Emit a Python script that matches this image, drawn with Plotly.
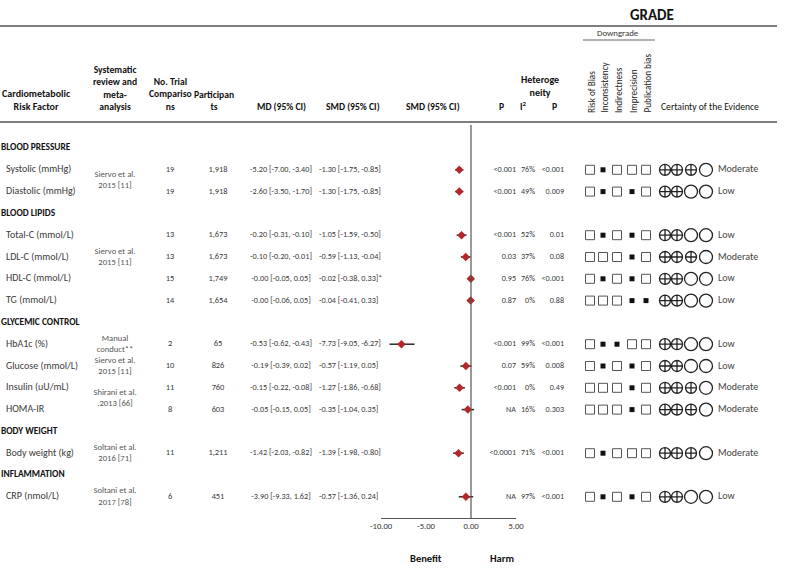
import plotly.graph_objects as go

# ------------------------- table content ---------------------------------------#
groups = ["BLOOD PRESSURE", "BLOOD LIPIDS", "GLYCEMIC CONTROL", "BODY WEIGHT", "INFLAMMATION"]
group_sizes = [2, 4, 4, 1, 1]

factors = [
    "Systolic (mmHg)", "Diastolic (mmHg)",
    "Total-C (mmol/L)", "LDL-C (mmol/L)", "HDL-C (mmol/L)", "TG (mmol/L)",
    "HbA1c (%)", "Glucose (mmol/L)", "Insulin (uU/mL)", "HOMA-IR",
    "Body weight (kg)",
    "CRP (nmol/L)",
]

# review label and the factor rows it is centred against
reviews = [
    "Siervo et al.<br>2015 [11]", "Siervo et al.<br>2015 [11]", "Manual<br>conduct**",
    "Siervo et al.<br>2015 [11]", "Shirani et al.<br>.2013 [66]",
    "Soltani et al.<br>2016 [71]", "Soltani et al.<br>2017 [78]",
]
review_rows = [(0, 1), (3, 3), (6, 6), (7, 7), (8, 9), (10, 10), (11, 11)]

trials = [19, 19, 13, 13, 15, 14, 2, 10, 11, 8, 11, 6]
participants = ["1,918", "1,918", "1,673", "1,673", "1,749", "1,654", "65", "826", "760", "603", "1,211", "451"]

md = [-5.20, -2.60, -0.20, -0.10, -0.00, -0.00, -0.53, -0.19, -0.15, -0.05, -1.42, -3.90]
md_lo = [-7.00, -3.50, -0.31, -0.20, -0.05, -0.06, -0.62, -0.39, -0.22, -0.15, -2.03, -9.33]
md_hi = [-3.40, -1.70, -0.10, -0.01, 0.05, 0.05, -0.43, 0.02, -0.08, 0.05, -0.82, 1.62]

smd = [-1.30, -1.30, -1.05, -0.59, -0.02, -0.04, -7.73, -0.57, -1.27, -0.35, -1.39, -0.57]
smd_lo = [-1.75, -1.75, -1.59, -1.13, -0.38, -0.41, -9.05, -1.19, -1.86, -1.04, -1.98, -1.36]
smd_hi = [-0.85, -0.85, -0.50, -0.04, 0.33, 0.33, -6.27, 0.05, -0.68, 0.35, -0.80, 0.24]
smd_note = ["", "", "", "", "*", "", "", "", "", "", "", ""]

p_effect = ["<0.001", "<0.001", "<0.001", "0.03", "0.95", "0.87", "<0.001", "0.07", "<0.001", "NA", "<0.0001", "NA"]
i2 = ["76%", "49%", "52%", "37%", "76%", "0%", "99%", "59%", "0%", "16%", "71%", "97%"]
p_het = ["<0.001", "0.009", "0.01", "0.08", "<0.001", "0.88", "<0.001", "0.008", "0.49", "0.303", "<0.001", "<0.001"]

downgrade_labels = ["Risk of Bias", "Inconsistency", "Indirectness", "Imprecision", "Publication bias"]
# 1 = downgraded for that domain
downgrade = [
    [0, 1, 0, 0, 0],
    [0, 1, 0, 1, 0],
    [0, 1, 0, 1, 0],
    [0, 0, 0, 1, 0],
    [0, 1, 0, 1, 0],
    [0, 0, 0, 1, 1],
    [0, 1, 1, 0, 0],
    [0, 1, 0, 1, 0],
    [0, 0, 0, 1, 0],
    [0, 0, 0, 1, 0],
    [0, 1, 0, 0, 0],
    [0, 1, 0, 1, 0],
]
certainty = ["Moderate", "Low", "Low", "Moderate", "Low", "Low", "Low", "Low", "Moderate", "Moderate", "Moderate", "Low"]
certainty_level = {"High": 4, "Moderate": 3, "Low": 2, "Very low": 1}

axis_ticks = [-10, -5, 0, 5]

# ------------------------- layout helpers ---------------------------------------#
FONT = "Carlito, Calibri, Lato, sans-serif"
TXT = "#3a3a3a"
W, H = 785, 570
ROW0, PITCH = 148, 21.8

group_y, factor_y = [], []
line = 0
for g, n in zip(groups, group_sizes):
    group_y.append(ROW0 + PITCH * line)
    line += 1
    for _ in range(n):
        factor_y.append(ROW0 + PITCH * line)
        line += 1
review_y = [(factor_y[a] + factor_y[b]) / 2 for a, b in review_rows]


def esc(s):
    return s.replace("<", "&lt;")


fig = go.Figure()


def text_col(x, y, labels, pos="middle center", size=8.3, color=TXT):
    fig.add_trace(
        go.Scatter(
            x=[x] * len(labels), y=y, text=labels, mode="text",
            textposition=pos, textfont=dict(family=FONT, size=size, color=color),
            hoverinfo="skip", showlegend=False, cliponaxis=False,
        )
    )


text_col(1, group_y, ["<b>%s</b>" % g for g in groups], "middle right", 9.4, "#111")
text_col(6, factor_y, factors, "middle right", 10)
text_col(115, review_y, reviews, "middle center", 8.6, "#555")
text_col(170, factor_y, [str(t) for t in trials], "middle center", 8.4)
text_col(218, factor_y, participants, "middle center", 8.4)
md_txt = ["%.2f [%.2f, %.2f]" % (m, l, h) for m, l, h in zip(md, md_lo, md_hi)]
text_col(281, factor_y, md_txt, "middle center", 8.2)
smd_txt = ["%.2f [%.2f, %.2f]%s" % (m, l, h, n) for m, l, h, n in zip(smd, smd_lo, smd_hi, smd_note)]
text_col(319, factor_y, smd_txt, "middle right", 8.2)
text_col(516, factor_y, [esc(p) for p in p_effect], "middle left", 8.1)
text_col(535, factor_y, i2, "middle left", 8.1)
text_col(564, factor_y, [esc(p) for p in p_het], "middle left", 8.1)
text_col(718, factor_y, certainty, "middle right", 10, "#444")

# GRADE downgrade boxes
dg_x = [590, 603, 617, 632, 646]
ox, oy, fx, fy = [], [], [], []
for y, flags in zip(factor_y, downgrade):
    for x, f in zip(dg_x, flags):
        if f:
            fx.append(x)
            fy.append(y)
        else:
            ox.append(x)
            oy.append(y)
fig.add_trace(go.Scatter(x=ox, y=oy, mode="markers", hoverinfo="skip", showlegend=False,
                         marker=dict(symbol="square-open", size=9, color="#555", line=dict(width=1))))
fig.add_trace(go.Scatter(x=fx, y=fy, mode="markers", hoverinfo="skip", showlegend=False,
                         marker=dict(symbol="square", size=5, color="#111", line=dict(width=0))))

# certainty symbols
cert_x = [665, 677, 691, 706]
px, py, cx, cy = [], [], [], []
for y, c in zip(factor_y, certainty):
    lvl = certainty_level[c]
    for k, x in enumerate(cert_x):
        if k < lvl:
            px.append(x)
            py.append(y)
        else:
            cx.append(x)
            cy.append(y)
fig.add_trace(go.Scatter(x=px, y=py, mode="markers", hoverinfo="skip", showlegend=False,
                         marker=dict(symbol="circle-cross-open", size=11, color="#222", line=dict(width=1.3))))
fig.add_trace(go.Scatter(x=cx, y=cy, mode="markers", hoverinfo="skip", showlegend=False,
                         marker=dict(symbol="circle-open", size=13, color="#222", line=dict(width=1.3))))

# forest plot (SMD)
ci_x, ci_y = [], []
for l, h, y in zip(smd_lo, smd_hi, factor_y):
    ci_x += [l, h, None]
    ci_y += [y, y, None]
fig.add_trace(go.Scatter(x=ci_x, y=ci_y, mode="lines", xaxis="x2", yaxis="y",
                         line=dict(color="#2a2a2a", width=1.5), hoverinfo="skip", showlegend=False))
fig.add_trace(go.Scatter(x=smd, y=factor_y, mode="markers", xaxis="x2", yaxis="y",
                         marker=dict(symbol="diamond", size=6.5, color="#b3262a"),
                         hoverinfo="skip", showlegend=False))

# ------------------------- header ---------------------------------------#
ann = []


def head(x, y, t, size=9.6, bold=True, xa="center", ya="bottom", color="#111", angle=0):
    ann.append(dict(x=x, y=y, xref="x", yref="y", text=("<b>%s</b>" % t) if bold else t,
                    showarrow=False, xanchor=xa, yanchor=ya, textangle=angle,
                    font=dict(family=FONT, size=size, color=color)))


head(652, 26, "GRADE", size=15)
head(618, 40, "Downgrade", size=8.8, bold=False, color="#333")
head(0, 115, "Cardiometabolic<br>Risk Factor", size=10, xa="left")
head(115, 115, "Systematic<br>review and<br>meta-<br>analysis")
head(170, 115, "No. Trial<br>Compariso<br>ns")
head(214, 115, "Participan<br>ts")
head(281, 115, "MD (95% CI)")
head(353, 115, "SMD (95% CI)")
head(433, 115, "SMD (95% CI)")
head(501, 115, "P")
head(523, 115, "I<sup>2</sup>")
head(554, 115, "P")
head(540, 101, "Heteroge<br>neity", size=10)
head(659, 115, "Certainty of the Evidence", size=9.6, bold=False, xa="left")
for x, t in zip(dg_x, downgrade_labels):
    head(x + 1, 115, t, size=9.2, bold=False, angle=-90, color="#222")
head(426, 567, "Benefit", size=10.5)
head(502, 567, "Harm", size=10.5)

shapes = [
    dict(type="line", xref="x", yref="y", x0=0, x1=777, y0=26, y1=26, line=dict(color="#555", width=1.3)),
    dict(type="line", xref="x", yref="y", x0=0, x1=777, y0=122, y1=122, line=dict(color="#555", width=1.3)),
    dict(type="line", xref="x", yref="y", x0=583, x1=655, y0=40, y1=40, line=dict(color="#666", width=1.2)),
    dict(type="line", xref="x2", yref="y", x0=0, x1=0, y0=125, y1=518, line=dict(color="#555", width=1.2)),
]

fig.update_layout(
    width=W,
    height=H,
    margin=dict(l=0, r=0, t=0, b=0, pad=0),
    paper_bgcolor="white",
    plot_bgcolor="rgba(0,0,0,0)",
    xaxis=dict(range=[0, W], domain=[0, 1], visible=False, fixedrange=True, automargin=False),
    yaxis=dict(range=[H, 0], domain=[0, 1], visible=False, fixedrange=True, automargin=False),
    xaxis2=dict(
        domain=[381 / W, 516 / W], range=[-10, 5], anchor="free", position=(H - 518) / H,
        showline=True, linecolor="#555", linewidth=1.2, showgrid=False, zeroline=False,
        ticks="", tickvals=axis_ticks, ticktext=["%.2f" % t for t in axis_ticks],
        tickfont=dict(family=FONT, size=8.6, color="#333"), fixedrange=True, automargin=False,
    ),
    annotations=ann,
    shapes=shapes,
)

# page body has a default margin; drop it so the figure sits at the window corner
fig.write_html(
    "out.html",
    config={"displayModeBar": False},
    post_script="document.body.style.margin='0';",
)
